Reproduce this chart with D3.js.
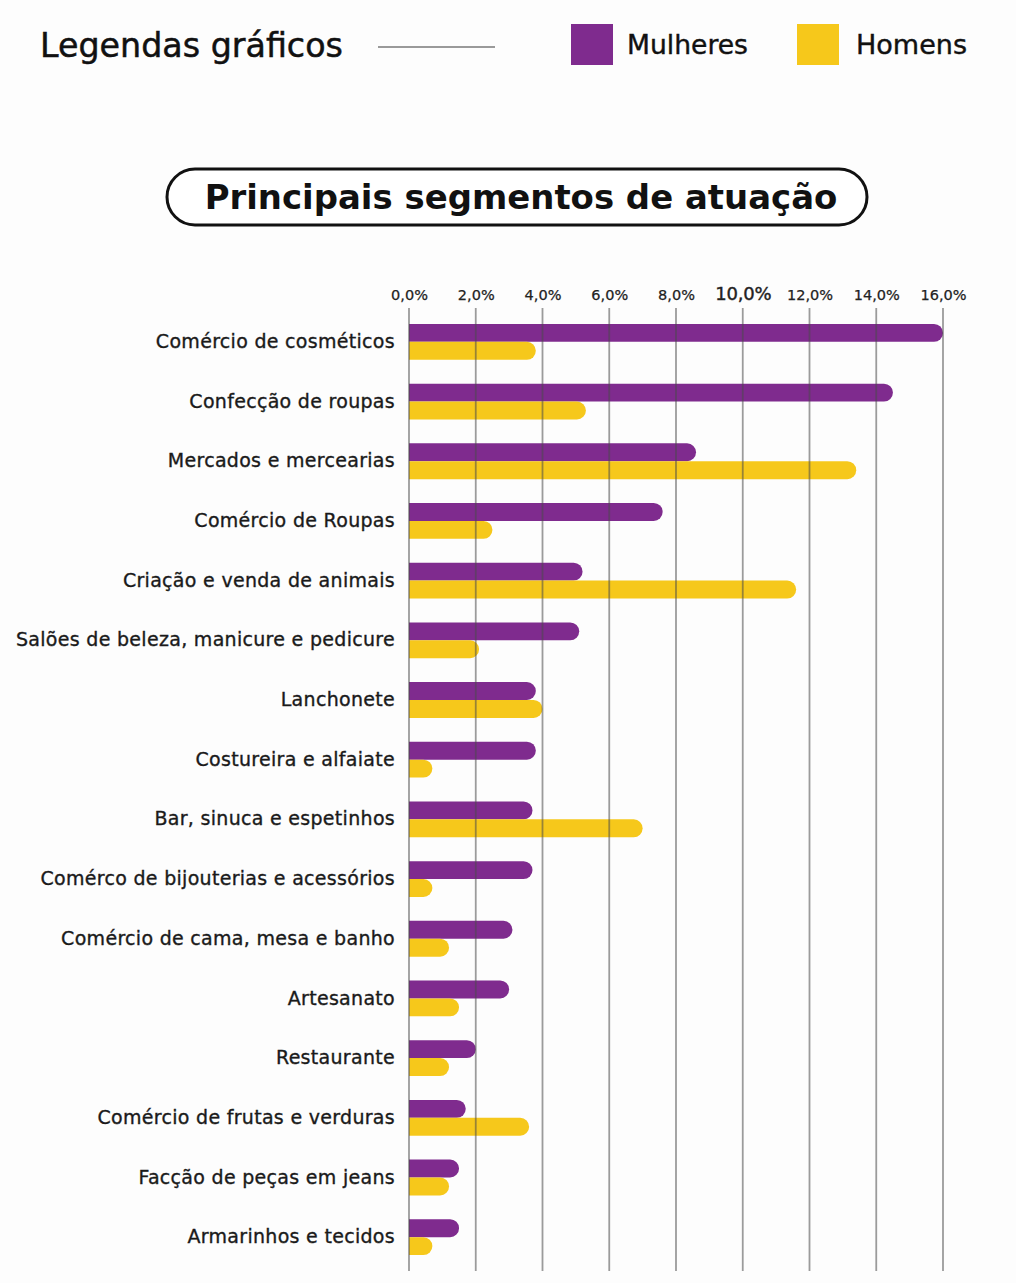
<!DOCTYPE html>
<html>
<head>
<meta charset="utf-8">
<script src="https://cdn.jsdelivr.net/npm/d3@7"></script>
<style>
  html, body { margin: 0; padding: 0; background: #fdfdfd; }
  svg { display: block; }
</style>
</head>
<body>
<script>
const categories = [
  "Comércio de cosméticos",
  "Confecção de roupas",
  "Mercados e mercearias",
  "Comércio de Roupas",
  "Criação e venda de animais",
  "Salões de beleza, manicure e pedicure",
  "Lanchonete",
  "Costureira e alfaiate",
  "Bar, sinuca e espetinhos",
  "Comérco de bijouterias e acessórios",
  "Comércio de cama, mesa e banho",
  "Artesanato",
  "Restaurante",
  "Comércio de frutas e verduras",
  "Facção de peças em jeans",
  "Armarinhos e tecidos"
];
const mulheres = [16.0, 14.5, 8.6, 7.6, 5.2, 5.1, 3.8, 3.8, 3.7, 3.7, 3.1, 3.0, 2.0, 1.7, 1.5, 1.5];
const homens   = [3.8, 5.3, 13.4, 2.5, 11.6, 2.1, 4.0, 0.7, 7.0, 0.7, 1.2, 1.5, 1.2, 3.6, 1.2, 0.7];
const seriesNames = ["Mulheres", "Homens"];
const tickValues = [0, 2, 4, 6, 8, 10, 12, 14, 16];
const tickLabels = ["0,0%", "2,0%", "4,0%", "6,0%", "8,0%", "10,0%", "12,0%", "14,0%", "16,0%"];
const legendTitle = "Legendas gráficos";
const chartTitle = "Principais segmentos de atuação";

const colors = { Mulheres: "#7f2b8e", Homens: "#f6c81b" };
const FONT = "'DejaVu Sans', 'Noto Sans', sans-serif";

const W = 1016, H = 1283;
const svg = d3.select("body").append("svg").attr("width", W).attr("height", H);
svg.append("rect").attr("width", W).attr("height", H).attr("fill", "#fdfdfd");

// fit text to a target width (layout helper)
function fitWidth(sel, target) {
  sel.each(function () {
    const w = this.getComputedTextLength();
    if (w > 0) {
      const fs = parseFloat(d3.select(this).attr("font-size"));
      d3.select(this).attr("font-size", (fs * target / w).toFixed(2));
    }
  });
}

// Legend
const lt = svg.append("text").attr("x", 40).attr("y", 57)
  .attr("font-family", FONT).attr("font-size", 30).attr("font-weight", 400)
  .attr("fill", "#111").attr("stroke", "#111").attr("stroke-width", 0.5).text(legendTitle);
fitWidth(lt, 303);
svg.append("line").attr("x1", 378).attr("x2", 495).attr("y1", 47).attr("y2", 47)
  .attr("stroke", "#9a9a9a").attr("stroke-width", 2);
const legendItems = [{ name: seriesNames[0], x: 571, tx: 627, w: 121 }, { name: seriesNames[1], x: 797, tx: 856, w: 111 }];
legendItems.forEach(d => {
  svg.append("rect").attr("x", d.x).attr("y", 24).attr("width", 42).attr("height", 41)
    .attr("fill", colors[d.name]);
  const t = svg.append("text").attr("x", d.tx).attr("y", 54)
    .attr("font-family", FONT).attr("font-size", 25).attr("font-weight", 400)
    .attr("fill", "#111").attr("stroke", "#111").attr("stroke-width", 0.4).text(d.name);
  fitWidth(t, d.w);
});

// Title pill
svg.append("rect").attr("x", 167).attr("y", 169).attr("width", 700).attr("height", 56)
  .attr("rx", 28).attr("ry", 28).attr("fill", "#fff")
  .attr("stroke", "#111").attr("stroke-width", 3);
const tt = svg.append("text").attr("x", 521).attr("y", 209).attr("text-anchor", "middle")
  .attr("font-family", FONT).attr("font-size", 33).attr("font-weight", 700)
  .attr("fill", "#111").text(chartTitle);
fitWidth(tt, 633);

// Scales
const x = d3.scaleLinear().domain([0, 16]).range([409, 943]);
const y = d3.scaleBand().domain(categories).range([312, 1267]).paddingInner(0.4).paddingOuter(0.2);
const ySub = d3.scaleBand().domain(seriesNames).range([0, y.bandwidth()]).padding(0);

const data = categories.map((c, i) => ({ cat: c, values: [
  { key: "Mulheres", v: mulheres[i] }, { key: "Homens", v: homens[i] }
]}));

function barPath(x0, x1, y0, h) {
  const r = Math.min(h / 2, (x1 - x0));
  return `M${x0},${y0} H${x1 - r} A${r},${r} 0 0 1 ${x1},${y0 + h / 2} A${r},${r} 0 0 1 ${x1 - r},${y0 + h} H${x0} Z`;
}

const rows = svg.append("g").selectAll("g").data(data).join("g")
  .attr("transform", d => `translate(0,${y(d.cat)})`);
rows.selectAll("path").data(d => d.values).join("path")
  .attr("d", d => barPath(x(0), x(d.v), ySub(d.key), ySub.bandwidth()))
  .attr("fill", d => colors[d.key]);

// Gridlines on top
const grid = svg.append("g");
grid.selectAll("line").data(tickValues).join("line")
  .attr("x1", d => x(d)).attr("x2", d => x(d))
  .attr("y1", 308).attr("y2", 1271)
  .attr("stroke", "#4a4a4a").attr("stroke-opacity", 0.55).attr("stroke-width", 1.8);

// Top axis labels
const axis = d3.axisTop(x).tickValues(tickValues).tickFormat((d, i) => tickLabels[i]).tickSize(0).tickPadding(0);
const ax = svg.append("g").attr("transform", "translate(0,300)").call(axis);
ax.select(".domain").remove();
ax.selectAll("text")
  .attr("font-family", FONT).attr("font-weight", 400)
  .attr("font-size", d => d === 10 ? 18 : 14.5)
  .attr("fill", "#222").attr("stroke", "#222").attr("stroke-width", d => d === 10 ? 0.4 : 0.25)
  .attr("letter-spacing", d => d === 10 ? -0.2 : 0);

// Category labels
const yAxis = d3.axisLeft(y).tickSize(0).tickPadding(0);
const ay = svg.append("g").attr("transform", "translate(395,0)").call(yAxis);
ay.select(".domain").remove();
ay.selectAll("text")
  .attr("font-family", FONT).attr("font-size", 19).attr("font-weight", 400)
  .attr("letter-spacing", 0.3)
  .attr("fill", "#1a1a1a").attr("stroke", "#1a1a1a").attr("stroke-width", 0.35);
</script>
</body>
</html>
